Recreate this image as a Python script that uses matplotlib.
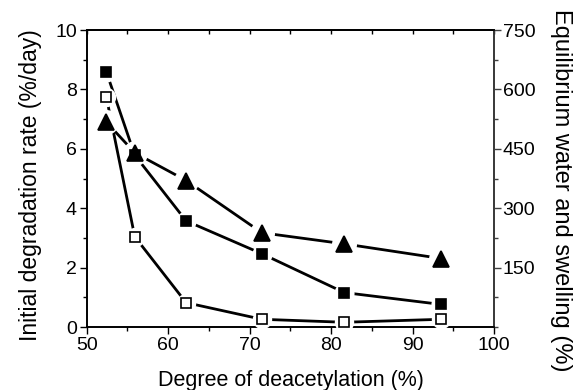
import numpy as np
import matplotlib.pyplot as plt
from matplotlib.ticker import MultipleLocator, NullFormatter

plt.rcParams['font.family'] = ['Liberation Sans', 'DejaVu Sans']

# degree of deacetylation (%)
dda = [52.4, 55.9, 62.2, 71.5, 81.6, 93.5]
# initial degradation rate (%/day), open squares, left axis
degradation = [7.76, 3.04, 0.82, 0.26, 0.16, 0.26]
# right axis (%)
swelling = [645, 434, 268, 185, 87, 57]     # filled squares
water = [518, 440, 370, 238, 210, 173]      # triangles

fig = plt.figure(figsize=(5.76, 3.9), dpi=100)
ax1 = fig.add_axes([0.1505, 0.1615, 0.7075, 0.7615])
ax2 = ax1.twinx()

ax1.set_xlim(50, 100)
ax1.set_ylim(0, 10)
ax2.set_ylim(0, 750)

lw = 2.0
series = [
    (degradation, ax1.transData, 's', 7, 'white'),
    (swelling, ax2.transData, 's', 7.5, 'black'),
    (water, ax2.transData, '^', 11, 'black'),
]
# lines first, then white halos to cut gaps, then the markers
for y, trf, m, ms, fc in series:
    ax2.plot(dda, y, '-', color='black', lw=lw, transform=trf, zorder=2,
             solid_capstyle='butt')
for y, trf, m, ms, fc in series:
    ax2.plot(dda, y, ls='none', marker='o', ms=ms + 7, mfc='white',
             mec='none', transform=trf, zorder=3)
for y, trf, m, ms, fc in series:
    ax2.plot(dda, y, ls='none', marker=m, ms=ms, mfc=fc, mec='black',
             mew=1.2, transform=trf, zorder=4)

ax1.xaxis.set_major_locator(MultipleLocator(10))
ax1.xaxis.set_minor_locator(MultipleLocator(5))
ax1.yaxis.set_major_locator(MultipleLocator(2))
ax1.yaxis.set_minor_locator(MultipleLocator(1))
ax2.yaxis.set_major_locator(MultipleLocator(150))
ax2.yaxis.set_minor_locator(MultipleLocator(75))
ax2.set_yticks([150, 300, 450, 600, 750])

ax1.tick_params(axis='both', which='major', direction='out', length=5,
                width=1, labelsize=14, pad=2)
ax1.tick_params(axis='both', which='minor', direction='out', length=3, width=1)
ax2.tick_params(axis='y', which='major', direction='out', length=5, width=1,
                labelsize=14, pad=1, color='#404040')
ax2.tick_params(axis='y', which='minor', direction='out', length=3, width=1,
                color='#404040')

# top axis: inward ticks, no labels
top = ax1.secondary_xaxis('top')
top.xaxis.set_major_locator(MultipleLocator(5))
top.xaxis.set_major_formatter(NullFormatter())
top.tick_params(direction='in', length=3, width=1)
top.spines['top'].set_linewidth(1.2)

for sp in ax1.spines.values():
    sp.set_linewidth(1.2)
for sp in ax2.spines.values():
    sp.set_linewidth(1.2)
ax2.spines['right'].set_color('#404040')

ax1.set_xlabel('Degree of deacetylation (%)', fontsize=15.5, labelpad=12)
ax1.set_ylabel('Initial degradation rate (%/day)', fontsize=16.5)
ax1.yaxis.set_label_coords(-0.11, 0.478)
ax2.set_ylabel('Equilibrium water and swelling (%)', fontsize=17,
               rotation=270, va='center')
ax2.yaxis.set_label_coords(1.165, 0.46)

fig.savefig('out.png', dpi=100)
